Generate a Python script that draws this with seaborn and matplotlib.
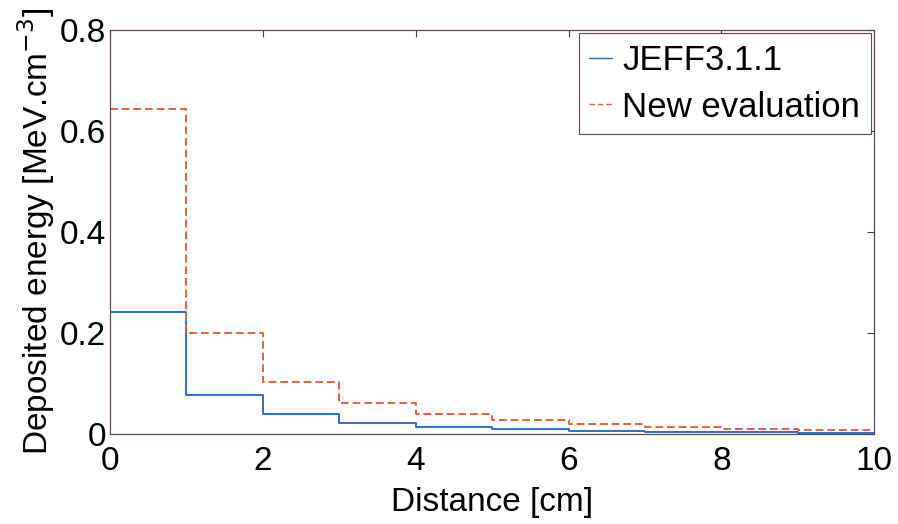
import numpy as np
import pandas as pd
import matplotlib.pyplot as plt
import seaborn as sns

# bin edges (cm) and deposited energy per 1 cm bin
edges = [0, 1, 2, 3, 4, 5, 6, 7, 8, 9, 10]
jeff = [0.242, 0.077, 0.040, 0.022, 0.014, 0.010, 0.006, 0.004, 0.003, 0.002]
new_eval = [0.644, 0.200, 0.103, 0.061, 0.040, 0.028, 0.020, 0.014, 0.010, 0.007]
labels = ["JEFF3.1.1", "New evaluation"]

sns.set_style("white")
plt.rcParams["font.family"] = ["Liberation Sans", "DejaVu Sans"]
plt.rcParams["text.color"] = "black"
plt.rcParams["axes.labelcolor"] = "black"
plt.rcParams["xtick.labelcolor"] = "black"
plt.rcParams["ytick.labelcolor"] = "black"

# steps-post needs the last value repeated at the right edge
rows = []
for name, vals in zip(labels, [jeff, new_eval]):
    for x, y in zip(edges, vals + [vals[-1]]):
        rows.append({"x": x, "y": y, "series": name})
df = pd.DataFrame(rows)

fig = plt.figure(figsize=(8.98, 5.24), dpi=100)
ax = fig.add_axes([0.1225, 0.172, 0.851, 0.771])

sns.lineplot(
    data=df, x="x", y="y", hue="series", style="series",
    palette={"JEFF3.1.1": "#2a6fd6", "New evaluation": "#e8603c"},
    dashes={"JEFF3.1.1": "", "New evaluation": (4, 2)},
    drawstyle="steps-post", linewidth=1.4, ax=ax,
)

ax.set_xlim(0, 10)
ax.set_ylim(0, 0.8)
ax.set_xticks([0, 2, 4, 6, 8, 10])
ax.set_yticks([0, 0.2, 0.4, 0.6, 0.8])
ax.set_yticklabels(["0", "0.2", "0.4", "0.6", "0.8"])
ax.tick_params(axis="both", direction="in", length=5, width=0.8,
               top=True, right=True, labelsize=24, color="#4a3a38")
ax.tick_params(axis="x", pad=9)
ax.tick_params(axis="y", pad=3)
for s in ax.spines.values():
    s.set_color("#5c4a48")
    s.set_linewidth(0.9)

ax.set_xlabel("Distance [cm]", fontsize=24, labelpad=7)
ax.set_ylabel("Deposited energy [MeV.cm$^{-3}$]", fontsize=24, labelpad=2)

leg = ax.legend(title=None, fontsize=25, loc="upper right", handlelength=0.65,
                handletextpad=0.3, borderpad=0.3, labelspacing=0.4,
                fancybox=False, framealpha=1, borderaxespad=0.1)
leg.get_frame().set_edgecolor("#5c4a48")
leg.get_frame().set_linewidth(0.8)
for line in leg.get_lines():
    line.set_linewidth(1.0)

fig.savefig("out.png", dpi=100)
